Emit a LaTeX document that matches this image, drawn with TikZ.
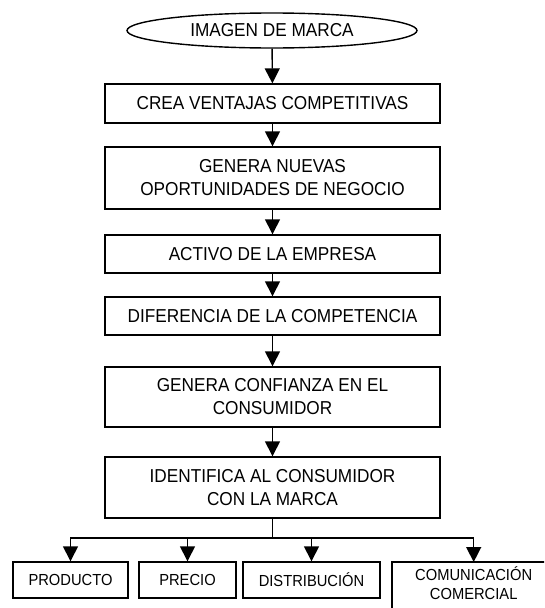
\documentclass[tikz,border=0pt]{standalone}
\usepackage{fontspec}
\setmainfont[FakeStretch=0.92]{Liberation Sans}
\usepackage{tikz}
\usetikzlibrary{arrows.meta,shapes.geometric}

\begin{document}
\begin{tikzpicture}[x=1pt,y=-1pt,line width=1.4pt,
    >={Triangle[width=15pt,length=15pt]},
    box/.style={draw,rectangle,align=center,inner sep=0pt,minimum width=335pt,
        font=\fontsize{18.7}{23}\selectfont},
    smallbox/.style={draw,rectangle,align=center,inner sep=0pt,minimum height=36pt,
        font=\fontsize{16}{18.5}\selectfont}]
        \clip (0,0) rectangle (544,608);

        \node [draw,ellipse,inner sep=0pt,minimum width=290pt,minimum height=35pt,
            font=\fontsize{18.7}{23}\selectfont] (img) at (272,30.5) {IMAGEN DE MARCA};
        \node [box,minimum height=39pt] (crea) at (272.5,103.5) {CREA VENTAJAS COMPETITIVAS};
        \node [box,minimum height=62pt] (nuevas) at (272.5,178) {GENERA NUEVAS\\OPORTUNIDADES DE NEGOCIO};
        \node [box,minimum height=38pt] (activo) at (272.5,254) {ACTIVO DE LA EMPRESA};
        \node [box,minimum height=38pt] (difer) at (272.5,316) {DIFERENCIA DE LA COMPETENCIA};
        \node [box,minimum height=60pt] (confi) at (272.5,397) {GENERA CONFIANZA EN EL\\CONSUMIDOR};
        \node [box,minimum height=61pt] (ident) at (272.5,487.5) {IDENTIFICA AL CONSUMIDOR\\CON LA MARCA};

        \node [smallbox,minimum width=115pt] (prod) at (70.5,580) {PRODUCTO};
        \node [smallbox,minimum width=97pt] (prec) at (187.5,580) {PRECIO};
        \node [smallbox,minimum width=137pt] (dist) at (311.5,580) {DISTRIBUCIÓN};
        \node [smallbox,draw=none,minimum width=162pt,minimum height=41pt,anchor=north west]
            (com) at (392,562) {COMUNICACIÓN\\COMERCIAL};
        \draw (com.north east)--(com.north west)--++(0,60);

        \draw [->] (img)--(crea);
        \draw [->] (crea)--(nuevas);
        \draw [->] (nuevas)--(activo);
        \draw [->] (activo)--(difer);
        \draw [->] (difer)--(confi);
        \draw [->] (confi)--(ident);

        \coordinate (bus) at (272.5,538);
        \draw (ident.south)--(bus);
        \foreach \n in {prod,prec,dist,com}
            \draw [->] (bus)-|(\n.north);
\end{tikzpicture}
\end{document}
